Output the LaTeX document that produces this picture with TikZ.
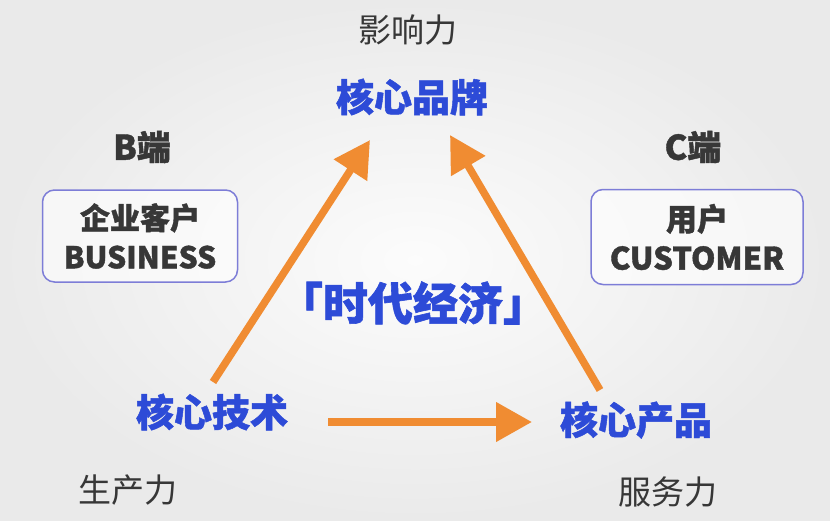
\documentclass[tikz,border=0pt]{standalone}
\usepackage{fontspec}
\setmainfont{Noto Sans CJK SC}
\newfontfamily\dickfont{Noto Sans CJK SC}[BoldFeatures={FakeBold=1.3}]
\usepackage{xcolor}
\usetikzlibrary{positioning,%
  calc,%
  arrows.meta,%
  shapes
}

\definecolor{kernblau}{RGB}{45,75,215}
\definecolor{textgrau}{RGB}{55,55,55}
\definecolor{pfeilorange}{RGB}{240,140,50}
\definecolor{kastenrand}{RGB}{125,125,215}
\definecolor{hintergrund}{RGB}{234,234,234}

\begin{document}
\begin{tikzpicture}
    [
        x=1pt, y=-1pt,
        every node/.style={inner sep=0pt},
        kern/.style={text=kernblau, font=\dickfont\bfseries\fontsize{38}{38}\selectfont},
        kraft/.style={text=textgrau, font=\fontsize{33}{33}\selectfont},
        seite/.style={text=textgrau, font=\dickfont\bfseries\fontsize{34}{34}\selectfont},
        kasten/.style={draw=kastenrand, line width=1.5pt, rounded corners=12pt,
            fill=white, fill opacity=.6, text opacity=1, text=textgrau,
            align=center, font=\dickfont\bfseries\fontsize{30}{39}\selectfont}
        ,pfeil/.style={draw=pfeilorange, line width=7.5pt,
            -{Triangle[length=36pt,width=38pt]}}
    ]

    % Hintergrund
    \shade[inner color=white!85!hintergrund, outer color=hintergrund]
        (0,0) rectangle (830,520);
    \useasboundingbox (0,0) rectangle (830,520);

    \node[kraft] (einfluss) at (408,30) {影响力};
    \node[kern] (marke) at (412,97) {核心品牌};

    \node[seite] (bseite) at (142,147) {B端};
    \node[seite] (cseite) at (693,147) {C端};

    \node[kasten, minimum width=195pt, minimum height=92pt] (business) at (140,236)
        {企业客户\\BUSINESS};
    \node[kasten, minimum width=212pt, minimum height=95pt,
        font=\dickfont\bfseries\fontsize{31}{39}\selectfont] (customer) at (697,237)
        {用户\\CUSTOMER};

    \node[kern, font=\dickfont\bfseries\fontsize{45}{45}\selectfont] (zeit) at (413,303) {「时代经济」};

    \node[kern] (technik) at (212,412) {核心技术};
    \node[kern] (produkt) at (636,420) {核心产品};

    \node[kraft] (produktiv) at (128,490) {生产力};
    \node[kraft] (service) at (668,492) {服务力};

    % Pfeile
    \draw[pfeil] ($(technik)+(1,-30)$) -- ($(marke)+(-42,43)$);
    \draw[pfeil] ($(produkt)+(-36,-30)$) -- ($(marke)+(38,38)$);
    \draw[pfeil] ($(technik)+(116,10)$) -- ($(produkt)+(-104,2)$);
\end{tikzpicture}
\end{document}
